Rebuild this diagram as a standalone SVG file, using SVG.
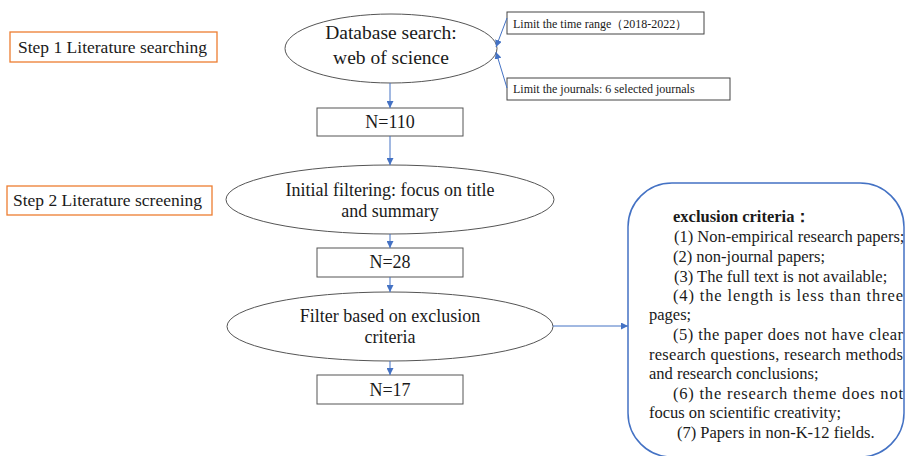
<svg xmlns="http://www.w3.org/2000/svg" width="905" height="456" viewBox="0 0 905 456">
  <style>
    text { font-family: "Liberation Serif", "Times New Roman", serif; fill: #1a1a1a; }
    .step { fill: #fff; stroke: #ED7D31; stroke-width: 1.3; }
    .node { fill: #fff; stroke: #555; stroke-width: 1; }
    .note { fill: #fff; stroke: #444; stroke-width: 1; }
    .crit { fill: #fff; stroke: #4472C4; stroke-width: 1.5; }
    .link { fill: none; stroke: #4472C4; stroke-width: 1; marker-end: url(#arrow); }
    .c { text-anchor: middle; }
    .steptxt { font-size: 17.5px; }
    .big { font-size: 18px; }
    .small { font-size: 12px; }
    .list { font-size: 16.5px; }
  </style>
  <defs>
    <marker id="arrow" viewBox="0 0 10 10" refX="10" refY="5" markerWidth="7" markerHeight="7" markerUnits="userSpaceOnUse" orient="auto">
      <path d="M0,0 L10,5 L0,10 z" fill="#4472C4"/>
    </marker>
  </defs>

  <!-- step labels -->
  <g id="step1">
    <rect class="step" x="10" y="32" width="207" height="30"/>
    <text class="steptxt" x="18" y="53">Step 1 Literature searching</text>
  </g>
  <g id="step2">
    <rect class="step" x="7" y="186" width="205" height="29"/>
    <text class="steptxt" x="13" y="206">Step 2 Literature screening</text>
  </g>

  <!-- flow nodes -->
  <g id="database-search">
    <ellipse class="node" cx="391" cy="48.5" rx="106" ry="34.5"/>
    <text class="c" style="font-size:19.5px" x="391" y="39">Database search:</text>
    <text class="c" style="font-size:19.5px" x="391" y="64">web of science</text>
  </g>
  <g id="limit-time">
    <rect class="note" x="507" y="12" width="197" height="22"/>
    <text class="small" x="513" y="28">Limit the time range（2018-2022）</text>
  </g>
  <g id="limit-journals">
    <rect class="note" x="507" y="78" width="223" height="22"/>
    <text class="small" x="513" y="93">Limit the journals: 6 selected journals</text>
  </g>
  <g id="n110">
    <rect class="node" x="317" y="108" width="146" height="28"/>
    <text class="c big" x="390" y="128">N=110</text>
  </g>
  <g id="initial-filter">
    <ellipse class="node" cx="390" cy="199.5" rx="164" ry="34.5"/>
    <text class="c big" x="390" y="196">Initial filtering: focus on title</text>
    <text class="c big" x="390" y="217">and summary</text>
  </g>
  <g id="n28">
    <rect class="node" x="317" y="248" width="146" height="29"/>
    <text class="c big" x="390" y="268">N=28</text>
  </g>
  <g id="exclusion-filter">
    <ellipse class="node" cx="390" cy="326.5" rx="163" ry="34.5"/>
    <text class="c big" x="390" y="322">Filter based on exclusion</text>
    <text class="c big" x="390" y="343">criteria</text>
  </g>
  <g id="n17">
    <rect class="node" x="317" y="375" width="146" height="29"/>
    <text class="c big" x="390" y="396">N=17</text>
  </g>

  <!-- exclusion criteria panel -->
  <g id="criteria">
    <rect class="crit" x="628" y="183" width="276" height="274" rx="44" ry="44"/>
    <text class="list" x="673" y="222" font-weight="bold">exclusion criteria：</text>
    <text class="list" x="674" y="242">(1) Non-empirical research papers;</text>
    <text class="list" x="673" y="262">(2) non-journal papers;</text>
    <text class="list" x="674" y="282">(3) The full text is not available;</text>
    <text class="list" x="673" y="301" textLength="230" lengthAdjust="spacing">(4) the length is less than three</text>
    <text class="list" x="649" y="320">pages;</text>
    <text class="list" x="673" y="340" textLength="230" lengthAdjust="spacing">(5) the paper does not have clear</text>
    <text class="list" x="649" y="360" textLength="254" lengthAdjust="spacing">research questions, research methods</text>
    <text class="list" x="649" y="379">and research conclusions;</text>
    <text class="list" x="673" y="399" textLength="230" lengthAdjust="spacing">(6) the research theme does not</text>
    <text class="list" x="649" y="418">focus on scientific creativity;</text>
    <text class="list" x="677" y="438">(7) Papers in non-K-12 fields.</text>
  </g>

  <!-- connectors -->
  <g id="connectors">
    <line class="link" x1="390" y1="83" x2="390" y2="108"/>
    <line class="link" x1="390" y1="136" x2="390" y2="165"/>
    <line class="link" x1="390" y1="234" x2="390" y2="248"/>
    <line class="link" x1="390" y1="277" x2="390" y2="292"/>
    <line class="link" x1="390" y1="361" x2="390" y2="375"/>
    <line class="link" x1="553" y1="326" x2="628" y2="326"/>
    <line class="link" x1="507" y1="18" x2="496" y2="47"/>
    <line class="link" x1="507" y1="88" x2="496" y2="52"/>
  </g>
</svg>
